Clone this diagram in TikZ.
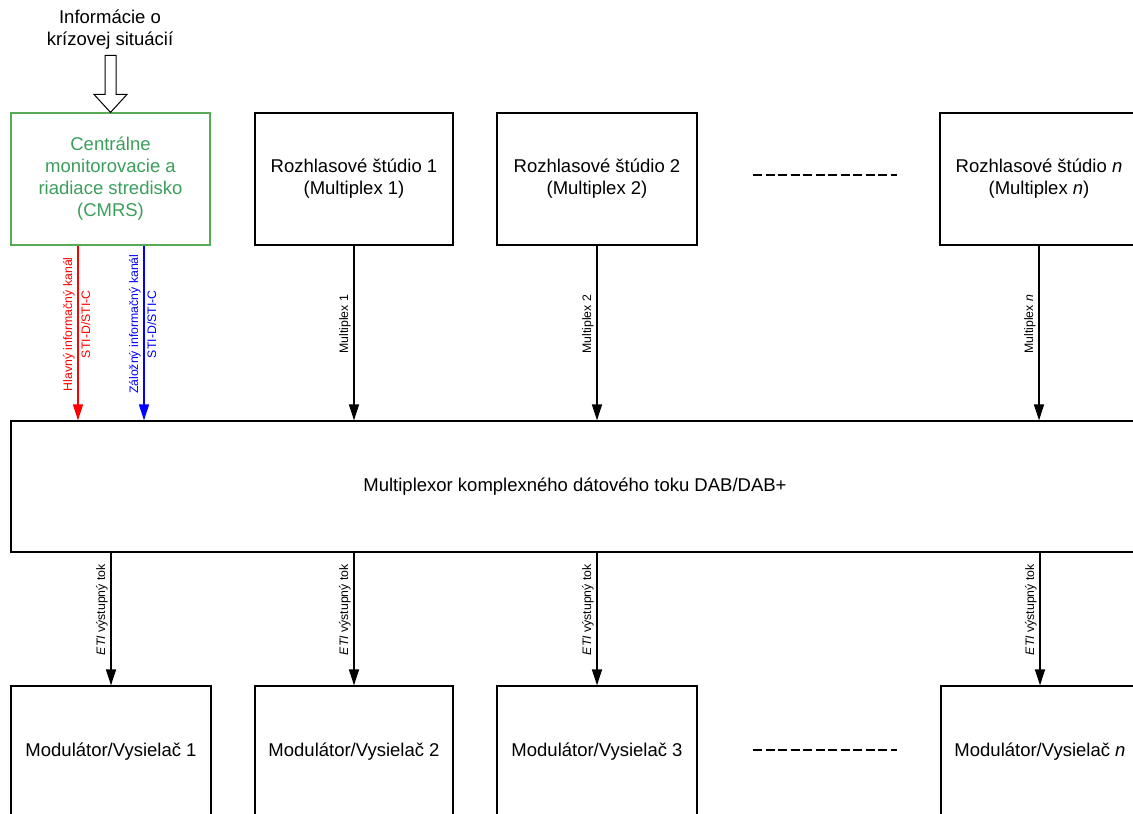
\documentclass[tikz,border=0pt]{standalone}
\usepackage{fontspec}
\setmainfont{Liberation Sans}
\usetikzlibrary{arrows.meta}
\definecolor{cmrsgreen}{RGB}{60,158,92}
\definecolor{cmrsborder}{RGB}{88,170,84}
\definecolor{lblue}{RGB}{0,0,255}
\definecolor{lred}{RGB}{255,0,0}
\begin{document}
\begin{tikzpicture}[x=1pt,y=1pt,
  box/.style={draw=black,line width=1.2pt,rectangle,minimum height=132pt,inner sep=0pt,align=center,font=\fontsize{18.5}{22}\selectfont},
  arr/.style={line width=1.6pt,-{Triangle[length=16pt,width=10pt]}},
  lbl/.style={rotate=90,inner sep=2.5pt,font=\fontsize{12.3}{14}\selectfont},
  dots/.style={line width=2.2pt,dash pattern=on 9pt off 3.5pt}]
\useasboundingbox (0,0) rectangle (1133,-814);
\clip (0,0) rectangle (1133,-814);

% top row
\node[box,draw=cmrsborder,text=cmrsgreen,minimum width=199pt] (cmrs) at (110.5,-179)
  {Centrálne\\monitorovacie a\\riadiace stredisko\\(CMRS)};
\node[box,minimum width=198pt] (s1) at (354,-179) {Rozhlasové štúdio 1\\(Multiplex 1)};
\node[box,minimum width=200pt] (s2) at (597,-179) {Rozhlasové štúdio 2\\(Multiplex 2)};
\node[box,minimum width=198pt] (sn) at (1039,-179) {Rozhlasové štúdio \textit{n}\\(Multiplex \textit{n})};

% info text and hollow arrow
\node[align=center,font=\fontsize{18.5}{22}\selectfont,inner sep=0pt] (info) at (110,-30) {Informácie o\\krízovej situácií};
\draw[line width=1pt,fill=white] (cmrs.north) -- ++(16.5,18) -- ++(-11,0) -- ++(0,39) -- ++(-11,0) -- ++(0,-39) -- ++(-11,0) -- cycle;

% multiplexer
\node[box,minimum width=1128pt,minimum height=131pt] (mux) at (575,-486.5) {Multiplexor komplexného dátového toku DAB/DAB+};

% bottom row
\node[box,minimum width=200pt] (m1) at (111,-752) {Modulátor/Vysielač 1};
\node[box,minimum width=198pt] (m2) at (354,-752) {Modulátor/Vysielač 2};
\node[box,minimum width=200pt] (m3) at (597,-752) {Modulátor/Vysielač 3};
\node[box,minimum width=198pt] (mn) at (1040,-752) {Modulátor/Vysielač \textit{n}};

% dashed ellipsis lines
\draw[dots] (753,-175) -- (897,-175);
\draw[dots] (753,-750) -- (897,-750);

% CMRS -> mux
\draw[arr,lred] ([xshift=-32.5pt]cmrs.south) -- ([xshift=-32.5pt]cmrs.south |- mux.north)
  node[pos=0.45,lbl,anchor=south,text=lred] {Hlavný informačný kanál}
  node[pos=0.45,lbl,anchor=north,text=lred] {STI-D/STI-C};
\draw[arr,lblue] ([xshift=33.5pt]cmrs.south) -- ([xshift=33.5pt]cmrs.south |- mux.north)
  node[pos=0.45,lbl,anchor=south,text=lblue] {Záložný informačný kanál}
  node[pos=0.45,lbl,anchor=north,text=lblue] {STI-D/STI-C};

% studios -> mux
\draw[arr] (s1.south) -- (s1.south |- mux.north) node[pos=0.45,lbl,anchor=south] {Multiplex 1};
\draw[arr] (s2.south) -- (s2.south |- mux.north) node[pos=0.45,lbl,anchor=south] {Multiplex 2};
\draw[arr] (sn.south) -- (sn.south |- mux.north) node[pos=0.45,lbl,anchor=south] {Multiplex \textit{n}};

% mux -> modulators
\draw[arr] (m1.north |- mux.south) -- (m1.north) node[pos=0.43,lbl,anchor=south] {\textit{ETI} výstupný tok};
\draw[arr] (m2.north |- mux.south) -- (m2.north) node[pos=0.43,lbl,anchor=south] {\textit{ETI} výstupný tok};
\draw[arr] (m3.north |- mux.south) -- (m3.north) node[pos=0.43,lbl,anchor=south] {\textit{ETI} výstupný tok};
\draw[arr] (mn.north |- mux.south) -- (mn.north) node[pos=0.43,lbl,anchor=south] {\textit{ETI} výstupný tok};
\end{tikzpicture}
\end{document}
